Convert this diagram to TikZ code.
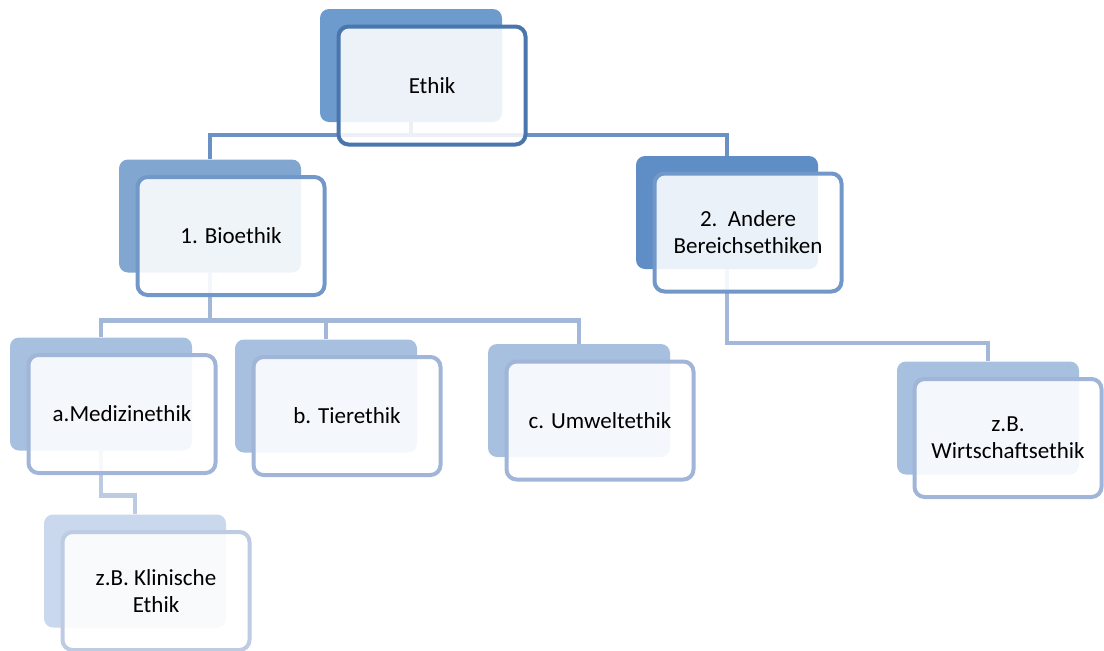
\documentclass[tikz,border=0pt]{standalone}
\usepackage{fontspec}
\setmainfont{Carlito}
\usetikzlibrary{positioning}
\definecolor{fillA}{HTML}{6E9BCD}
\definecolor{fillB}{HTML}{81A7D1}
\definecolor{fillBB}{HTML}{5F8EC6}
\definecolor{fillC}{HTML}{A7C0DF}
\definecolor{fillD}{HTML}{C9D8EC}
\definecolor{lineA}{HTML}{4A76AE}
\definecolor{lineB}{HTML}{7198C9}
\definecolor{lineC}{HTML}{A0B5D7}
\definecolor{lineD}{HTML}{BDCCE3}
\definecolor{linkA}{HTML}{6B90C4}
\definecolor{linkB}{HTML}{A3B7D9}
\definecolor{linkC}{HTML}{BCCBE2}

\begin{document}
\begin{tikzpicture}[x=1pt,y=-1pt,
  back/.style={rectangle, rounded corners=9pt, minimum width=182pt, minimum height=113pt, inner sep=0pt},
  front/.style={rectangle, rounded corners=10pt, line width=4pt, fill=white, fill opacity=0.88, text opacity=1,
    minimum width=187pt, minimum height=118pt, inner sep=0pt, align=center,
    font=\fontsize{23}{27}\selectfont},
  link/.style={line width=4.5pt}]
\useasboundingbox (0,0) rectangle (1104,651);

\node[back, fill=fillA] (ethik-s) at (411,65.5) {};
\node[back, fill=fillB] (bio-s) at (210,216) {};
\node[back, fill=fillBB] (andere-s) at (727,212.5) {};
\node[back, fill=fillC] (med-s) at (101,394) {};
\node[back, fill=fillC] (tier-s) at (326,396) {};
\node[back, fill=fillC] (umw-s) at (579,400.5) {};
\node[back, fill=fillC] (wirt-s) at (988,418) {};
\node[back, fill=fillD] (klin-s) at (135,571) {};

\draw[link, draw=linkA] (ethik-s.south) -- ++(0,13) coordinate (e1) -| (bio-s.north);
\draw[link, draw=linkA] (e1) -| (andere-s.north);
\draw[link, draw=linkB] (bio-s.south) -- ++(0,48) coordinate (b1) -| (med-s.north);
\draw[link, draw=linkB] (b1) -| (tier-s.north);
\draw[link, draw=linkB] (b1) -| (umw-s.north);
\draw[link, draw=linkB] (andere-s.south) -- ++(0,74) -| (wirt-s.north);
\draw[link, draw=linkC] (med-s.south) -- ++(0,45) -| (klin-s.north);

\node[front, draw=lineA] (ethik) at ([shift={(21,20)}]ethik-s) {Ethik};
\node[front, draw=lineB] (bio) at ([shift={(21,20)}]bio-s) {1. Bioethik};
\node[front, draw=lineB] (andere) at ([shift={(21,20)}]andere-s) {2.\ \ Andere\\Bereichsethiken};
\node[front, draw=lineC] (med) at ([shift={(21,20)}]med-s) {a.Medizinethik};
\node[front, draw=lineC] (tier) at ([shift={(21,20)}]tier-s) {b. Tierethik};
\node[front, draw=lineC] (umw) at ([shift={(21,20)}]umw-s) {c. Umweltethik};
\node[front, draw=lineC] (wirt) at ([shift={(20,20)}]wirt-s) {z.B.\\Wirtschaftsethik};
\node[front, draw=lineD] (klin) at ([shift={(21,20)}]klin-s) {z.B. Klinische\\Ethik};
\end{tikzpicture}
\end{document}
